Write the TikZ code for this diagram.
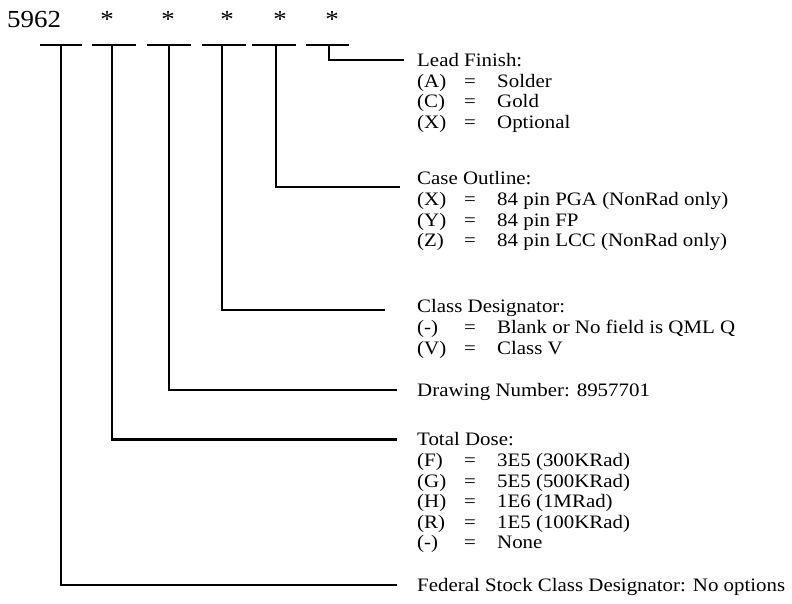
\documentclass[tikz,border=0pt]{standalone}
\usepackage{fontspec}
\setmainfont{Liberation Serif}[FakeStretch=1.1]
\usetikzlibrary{positioning}

% one option row: code, equals sign, meaning
\newcommand{\opt}[2]{\rule[-6pt]{0pt}{20.5pt}\makebox[47pt][l]{#1}\makebox[33pt][l]{=}#2}

\begin{document}
\begin{tikzpicture}[x=1pt, y=-1pt,
    every node/.style={inner sep=0pt},
    partno/.style={font=\fontsize{24.5}{28}\selectfont, anchor=base},
    head/.style={font=\fontsize{19}{20.5}\selectfont, anchor=west, text height=14.5pt, text depth=2pt},
    items/.style={font=\fontsize{19}{20.5}\selectfont, align=left},
    bar/.style={line width=2.4pt},
    link/.style={line width=2.4pt, shorten >=#1},
    link/.default={20pt},
]
\useasboundingbox (0,0) rectangle (792,603);

% part number
\node[partno, anchor=base west] (pfx) at (7,27) {5962};
\node[partno] (s1) at (107,27) {*};
\node[partno] (s2) at (168,27) {*};
\node[partno] (s3) at (227,27) {*};
\node[partno] (s4) at (280,27) {*};
\node[partno] (s5) at (332,27) {*};

\foreach \a/\b in {40/82, 92/136, 147/191, 202/246, 252/296, 306/349}
    \draw[bar] (\a,45) -- (\b,45);

\coordinate (f1) at (61,45);
\coordinate (f2) at (112,45);
\coordinate (f3) at (169,45);
\coordinate (f4) at (222,45);
\coordinate (f5) at (276,45);
\coordinate (f6) at (329,45);

% field descriptions
\node[head] (lead) at (417,60) {Lead Finish:};
\node[items, below=4pt of lead.south west, anchor=north west] (leadopts)
    {\opt{(A)}{Solder}\\\opt{(C)}{Gold}\\\opt{(X)}{Optional}};

\node[head] (case) at (417,178.5) {Case Outline:};
\node[items, below=4pt of case.south west, anchor=north west] (caseopts)
    {\opt{(X)}{84 pin PGA (NonRad only)}\\\opt{(Y)}{84 pin FP}\\\opt{(Z)}{84 pin LCC (NonRad only)}};

\node[head] (class) at (417,306.5) {Class Designator:};
\node[items, below=4pt of class.south west, anchor=north west] (classopts)
    {\opt{(-)}{Blank or No field is QML Q}\\\opt{(V)}{Class V}};

\node[head] (dwg) at (417,390) {Drawing Number: 8957701};

\node[head] (dose) at (417,439.5) {Total Dose:};
\node[items, below=4pt of dose.south west, anchor=north west] (doseopts)
    {\opt{(F)}{3E5 (300KRad)}\\\opt{(G)}{5E5 (500KRad)}\\\opt{(H)}{1E6 (1MRad)}\\\opt{(R)}{1E5 (100KRad)}\\\opt{(-)}{None}};

\node[head] (fsc) at (417,585) {Federal Stock Class Designator: No options};

% leaders
\draw[link] (f1) |- (fsc.west);
\draw[link] (f2) |- (dose.west);
\draw[link] (f3) |- (dwg.west);
\draw[link=32pt] (f4) |- ([yshift=-3.5pt]class.west);
\draw[link=17pt] (f5) |- ([yshift=-8.5pt]case.west);
\draw[link=13pt] (f6) |- (lead.west);

\end{tikzpicture}
\end{document}
